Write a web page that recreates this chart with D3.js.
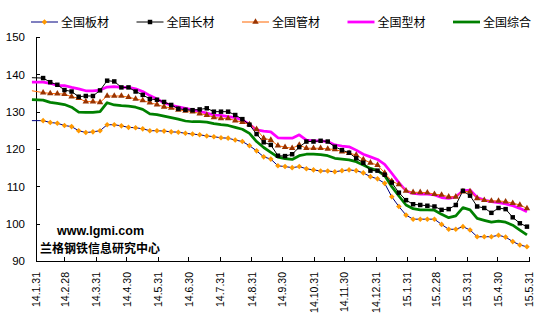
<!DOCTYPE html>
<html>
<head>
<meta charset="utf-8">
<script src="https://cdn.jsdelivr.net/npm/d3@7"></script>
<style>
  body { margin: 0; background: #fff; }
  svg text { font-family: "Liberation Sans", Arial, sans-serif; }
  .cjk { font-family: "Noto Sans CJK SC", sans-serif; }
</style>
</head>
<body>
<div id="chart"></div>
<script>
// weekly price index, first row is the opening quote
var dates = [
  "2014-01-27", "2014-02-07", "2014-02-14", "2014-02-21", "2014-02-28", "2014-03-07", "2014-03-14", "2014-03-21",
  "2014-03-28", "2014-04-04", "2014-04-11", "2014-04-18", "2014-04-25", "2014-05-02", "2014-05-09", "2014-05-16",
  "2014-05-23", "2014-05-30", "2014-06-06", "2014-06-13", "2014-06-20", "2014-06-27", "2014-07-04", "2014-07-11",
  "2014-07-18", "2014-07-25", "2014-08-01", "2014-08-08", "2014-08-15", "2014-08-22", "2014-08-29", "2014-09-05",
  "2014-09-12", "2014-09-19", "2014-09-26", "2014-10-03", "2014-10-10", "2014-10-17", "2014-10-24", "2014-10-31",
  "2014-11-07", "2014-11-14", "2014-11-21", "2014-11-28", "2014-12-05", "2014-12-12", "2014-12-19", "2014-12-26",
  "2015-01-02", "2015-01-09", "2015-01-16", "2015-01-23", "2015-01-30", "2015-02-06", "2015-02-13", "2015-02-20",
  "2015-02-27", "2015-03-06", "2015-03-13", "2015-03-20", "2015-03-27", "2015-04-03", "2015-04-10", "2015-04-17",
  "2015-04-24", "2015-05-01", "2015-05-08", "2015-05-15", "2015-05-22", "2015-05-29"
];

var banCai = [
  127.6, 127.6, 127.1, 126.9, 126.3, 126.0, 124.9, 124.4, 124.6, 124.9, 126.5, 126.5, 126.2, 125.8, 125.7, 125.4,
  124.9, 124.9, 124.8, 124.6, 124.5, 124.2, 124.0, 123.8, 123.5, 123.3, 123.0, 122.9, 122.4, 122.0, 120.9, 119.5,
  117.9, 117.3, 115.5, 115.3, 115.0, 115.3, 114.7, 114.4, 114.1, 114.1, 113.9, 114.2, 114.4, 114.2, 113.6, 112.6,
  112.0, 110.8, 107.2, 104.6, 102.3, 101.2, 101.2, 101.2, 101.2, 99.8, 98.5, 98.5, 99.2, 98.3, 96.5, 96.5,
  96.5, 96.9, 96.4, 95.2, 94.3, 93.8
];

var changCai = [
  139.1, 139.0, 137.9, 137.2, 135.8, 135.4, 134.0, 134.2, 134.2, 135.7, 138.3, 138.1, 136.5, 136.5, 135.4, 134.5,
  133.4, 133.2, 132.6, 131.8, 130.8, 130.5, 130.4, 130.6, 130.9, 130.0, 130.0, 130.0, 129.1, 128.0, 126.5, 124.0,
  121.8, 121.1, 118.2, 118.1, 118.6, 120.5, 122.0, 122.0, 122.2, 122.0, 120.6, 119.7, 119.0, 117.5, 116.3, 114.2,
  114.2, 113.1, 111.0, 108.3, 106.3, 105.2, 105.0, 104.8, 104.6, 103.7, 103.9, 105.0, 108.8, 107.5, 104.6, 104.2,
  102.9, 104.2, 103.9, 101.7, 100.1, 99.2
];

var guanCai = [
  135.6, 135.1, 134.9, 134.8, 134.7, 134.0, 133.6, 132.7, 132.7, 132.5, 134.2, 134.2, 134.2, 133.9, 133.4, 133.0,
  132.4, 131.9, 131.3, 131.0, 130.5, 130.2, 130.0, 129.5, 129.1, 128.5, 128.2, 128.2, 127.6, 127.2, 126.6, 125.3,
  122.9, 122.4, 120.9, 120.5, 120.2, 121.1, 120.2, 120.2, 120.2, 120.0, 119.9, 119.3, 118.9, 118.4, 117.2, 116.3,
  115.7, 113.6, 111.4, 110.5, 108.8, 108.4, 108.4, 108.3, 107.9, 107.7, 107.2, 107.2, 108.6, 108.6, 106.8, 106.3,
  106.1, 106.1, 105.9, 105.5, 105.0, 104.1
];

var xingCai = [
  137.9, 137.9, 137.6, 137.0, 137.0, 136.5, 136.1, 135.6, 135.6, 135.8, 136.6, 136.7, 136.5, 136.5, 136.1, 135.4,
  134.3, 133.4, 132.4, 131.7, 131.3, 130.9, 130.5, 130.1, 129.6, 129.1, 129.0, 128.7, 128.4, 127.8, 126.6, 125.1,
  124.8, 124.6, 123.0, 122.9, 122.9, 123.8, 122.4, 122.2, 122.2, 122.0, 121.1, 120.8, 120.6, 119.7, 118.6, 117.9,
  117.2, 115.9, 113.5, 111.0, 108.8, 108.1, 107.9, 107.9, 107.7, 107.0, 106.8, 107.2, 108.8, 109.0, 107.0, 106.3,
  105.9, 105.6, 105.3, 104.8, 104.1, 103.2
];

var zongHe = [
  133.2, 133.1, 132.5, 132.2, 131.9, 131.2, 129.9, 129.8, 129.8, 130.0, 132.4, 131.8, 131.6, 131.5, 131.2, 130.6,
  129.4, 129.2, 128.8, 128.4, 128.0, 127.5, 127.3, 127.3, 127.2, 126.8, 126.5, 126.3, 125.8, 125.3, 124.2, 122.0,
  120.4, 119.1, 117.8, 117.4, 117.2, 118.2, 118.6, 118.6, 118.5, 118.2, 117.5, 117.3, 117.1, 116.6, 115.7, 114.8,
  114.2, 112.9, 109.9, 107.4, 105.0, 104.0, 103.7, 103.7, 103.6, 102.5, 101.6, 102.1, 104.3, 103.7, 101.4, 100.9,
  100.4, 100.7, 100.4, 99.6, 98.3, 97.0
];

var xTickLabels = [
  "14.1.31", "14.2.28", "14.3.31", "14.4.30", "14.5.31", "14.6.30", "14.7.31", "14.8.31", "14.9.30",
  "14.10.31", "14.11.30", "14.12.31", "15.1.31", "15.2.28", "15.3.31", "15.4.30", "15.5.31"
];
var yTicks = [90, 100, 110, 120, 130, 140, 150];

var seriesNames = ["全国板材", "全国长材", "全国管材", "全国型材", "全国综合"];

var parseDay = d3.timeParse("%Y-%m-%d");
var parseTick = d3.timeParse("%y.%m.%d");
var days = dates.map(parseDay);
var tickDates = xTickLabels.map(parseTick);

var series = [
  {name: seriesNames[0], values: banCai, line: "#000080", width: 1, marker: d3.symbolDiamond2, size: 20, fill: "#ff9900"},
  {name: seriesNames[1], values: changCai, line: "#000000", width: 1, marker: d3.symbolSquare, size: 20, fill: "#000000"},
  {name: seriesNames[2], values: guanCai, line: "#ff6600", width: 1, marker: d3.symbolTriangle, size: 18, fill: "#993300"},
  {name: seriesNames[3], values: xingCai, line: "#ff00ff", width: 2.75, marker: null},
  {name: seriesNames[4], values: zongHe, line: "#008000", width: 2.75, marker: null}
];

var svg = d3.select("#chart").append("svg")
  .attr("width", 549)
  .attr("height", 321);

var x = d3.scaleTime()
  .domain([tickDates[0], tickDates[tickDates.length - 1]])
  .range([36, 529]);

var y = d3.scaleLinear()
  .domain([90, 150])
  .range([261, 37]);

// axes, ticks pointing into the plot
var yAxis = svg.append("g")
  .attr("transform", "translate(" + x.range()[0] + ",0)")
  .call(d3.axisLeft(y).tickValues(yTicks).tickSizeInner(-4).tickSizeOuter(0).tickPadding(11));
yAxis.selectAll("text").attr("font-size", "11.5px").attr("fill", "#000");

var xAxis = svg.append("g")
  .attr("transform", "translate(0," + y.range()[0] + ")")
  .call(d3.axisBottom(x).tickValues(tickDates).tickFormat(function(d, i) { return xTickLabels[i]; })
    .tickSizeInner(-4).tickSizeOuter(0));
xAxis.selectAll("text")
  .attr("font-size", "10.5px")
  .attr("fill", "#000")
  .attr("text-anchor", "end")
  .attr("transform", "rotate(-90)")
  .attr("x", -11)
  .attr("y", 0)
  .attr("dy", "0.35em");

svg.selectAll(".domain, .tick line").attr("stroke", "#000").attr("shape-rendering", "crispEdges");

// site mark in the lower left corner
svg.append("text")
  .attr("x", 57).attr("y", 235)
  .attr("font-size", "12.5px").attr("font-weight", "bold")
  .text("www.lgmi.com");
svg.append("text")
  .attr("class", "cjk")
  .attr("x", 40).attr("y", 253)
  .attr("font-size", "12px").attr("font-weight", "bold")
  .text("兰格钢铁信息研究中心");

var line = d3.line()
  .x(function(d, i) { return x(days[i]); })
  .y(function(d) { return y(d); });

// thick lines first so the marked series sit on top
var order = [4, 3, 2, 1, 0];
order.forEach(function(idx) {
  var s = series[idx];
  svg.append("path")
    .datum(s.values)
    .attr("fill", "none")
    .attr("stroke", s.line)
    .attr("stroke-width", s.width)
    .attr("stroke-linejoin", "round")
    .attr("d", line);
});

order.forEach(function(idx) {
  var s = series[idx];
  if (!s.marker) return;
  // opening quote sits left of the axis, markers start with the first week
  svg.append("g").selectAll("path")
    .data(s.values.slice(1))
    .join("path")
    .attr("transform", function(d, i) { return "translate(" + x(days[i + 1]) + "," + y(d) + ")"; })
    .attr("d", d3.symbol(s.marker, s.size))
    .attr("fill", s.fill);
});

// legend across the top
var legend = svg.append("g");
series.forEach(function(s, i) {
  var lx = 31 + i * 105.5;
  var g = legend.append("g").attr("transform", "translate(" + lx + ",22)");
  g.append("line")
    .attr("x1", 0).attr("x2", 27)
    .attr("stroke", s.line)
    .attr("stroke-width", s.width);
  if (s.marker) {
    g.append("path")
      .attr("transform", "translate(13.5,0)")
      .attr("d", d3.symbol(s.marker, s.size))
      .attr("fill", s.fill);
  }
  g.append("text")
    .attr("class", "cjk")
    .attr("x", 30).attr("y", 4.5)
    .attr("font-size", "12px")
    .text(s.name);
});
</script>
</body>
</html>
